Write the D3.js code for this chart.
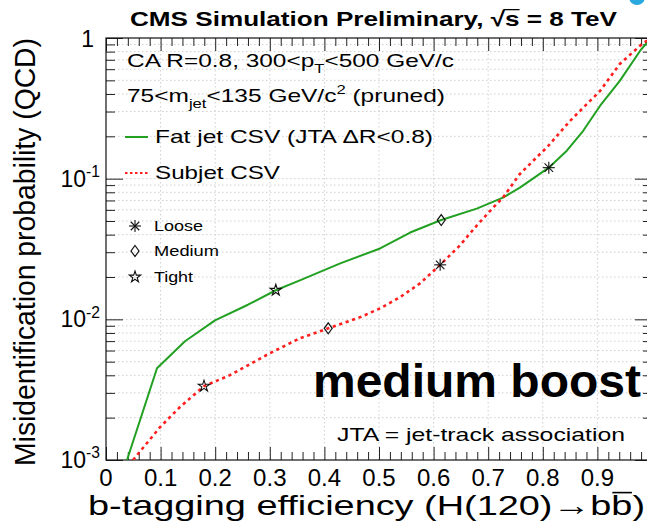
<!DOCTYPE html>
<html>
<head>
<meta charset="utf-8">
<script src="https://cdn.jsdelivr.net/npm/d3@7"></script>
<style>
  body { margin: 0; background: #fff; }
  svg { display: block; }
  text { font-family: "Liberation Sans", Arial, Helvetica, sans-serif; fill: #000; }
</style>
</head>
<body>
<svg id="chart" width="647" height="525"></svg>
<script>
// Fat jet CSV: b-tag efficiency vs QCD mistag rate
const fatjetEff    = [0.0385, 0.0934, 0.1447, 0.1996, 0.26, 0.311, 0.355, 0.429, 0.502, 0.557, 0.614, 0.679, 0.727, 0.758, 0.811, 0.844, 0.874, 0.905, 0.941, 0.978, 0.996];
const fatjetMistag = [0.001, 0.00449, 0.00698, 0.00984, 0.0127, 0.0161, 0.0189, 0.0250, 0.0319, 0.0414, 0.0508, 0.0612, 0.0733, 0.0863, 0.1197, 0.158, 0.219, 0.330, 0.496, 0.809, 0.98];

// Subjet CSV
const subjetEff    = [0.0495, 0.0989, 0.1355, 0.1795, 0.227, 0.300, 0.355, 0.407, 0.465, 0.502, 0.538, 0.575, 0.612, 0.648, 0.679, 0.709, 0.727, 0.758, 0.810, 0.850, 0.905, 0.941, 0.984, 1.0];
const subjetMistag = [0.001, 0.00171, 0.00238, 0.00335, 0.00401, 0.00574, 0.00733, 0.00863, 0.01033, 0.01197, 0.01432, 0.0180, 0.0244, 0.0335, 0.0464, 0.0623, 0.0733, 0.108, 0.171, 0.258, 0.421, 0.654, 0.922, 1.0];

// Working points: Loose, Medium, Tight
const wpNames        = ["Loose", "Medium", "Tight"];
const fatjetWpEff    = [0.811, 0.614, 0.311];
const fatjetWpMistag = [0.1197, 0.0508, 0.0161];
const subjetWpEff    = [0.612, 0.407, 0.1795];
const subjetWpMistag = [0.0244, 0.00863, 0.00335];

// Axis ticks
const xMajorTicks  = [0, 0.1, 0.2, 0.3, 0.4, 0.5, 0.6, 0.7, 0.8, 0.9, 1.0];
const xTickLabels  = ["0", "0.1", "0.2", "0.3", "0.4", "0.5", "0.6", "0.7", "0.8", "0.9"];
const yDecadeExps  = [0, -1, -2, -3];

const svg = d3.select("#chart");
const pLeft = 106, pRight = 652, pTop = 38, pBottom = 460;

const x = d3.scaleLinear().domain([0, 1]).range([pLeft, pRight]);
const y = d3.scaleLog().domain([1e-3, 1]).range([pBottom, pTop]);

// minor tick values
const xMinorTicks = d3.range(0, 1.0001, 0.02).filter(v => Math.abs(v * 10 - Math.round(v * 10)) > 1e-6);
const yMajorTicks = yDecadeExps.map(e => Math.pow(10, e));
const yMinorTicks = [];
[-3, -2, -1].forEach(e => { for (let k = 2; k <= 9; k++) yMinorTicks.push(k * Math.pow(10, e)); });

svg.append("rect").attr("width", 647).attr("height", 525).attr("fill", "#fff");

// decorative corner mark
svg.append("circle").attr("cx", 637).attr("cy", -3).attr("r", 8).attr("fill", "#2aa9df");

// grid
const grid = svg.append("g").attr("stroke", "#cfcfcf").attr("stroke-width", 1).attr("stroke-dasharray", "1.5,2.5");
grid.selectAll("line.h").data(yMajorTicks.concat(yMinorTicks).filter(v => v > 1e-3 && v < 1)).join("line")
  .attr("x1", pLeft).attr("x2", pRight).attr("y1", d => y(d)).attr("y2", d => y(d));
grid.selectAll("line.v").data(xMajorTicks.filter(v => v > 0 && v < 1)).join("line")
  .attr("y1", pTop).attr("y2", pBottom).attr("x1", d => x(d)).attr("x2", d => x(d));

// tick marks via d3 axes (inward)
function ticks(axis, values, size, transform) {
  const g = svg.append("g").attr("transform", transform)
    .call(axis.tickValues(values).tickSize(-size).tickFormat(""));
  g.select(".domain").remove();
  g.selectAll("line").attr("stroke", "#222").attr("stroke-width", 1);
}
ticks(d3.axisBottom(x), xMajorTicks, 13, `translate(0,${pBottom})`);
ticks(d3.axisBottom(x), xMinorTicks, 8, `translate(0,${pBottom})`);
ticks(d3.axisTop(x), xMajorTicks, 13, `translate(0,${pTop})`);
ticks(d3.axisTop(x), xMinorTicks, 8, `translate(0,${pTop})`);
ticks(d3.axisLeft(y), yMajorTicks, 17, `translate(${pLeft},0)`);
ticks(d3.axisLeft(y), yMinorTicks, 9, `translate(${pLeft},0)`);
ticks(d3.axisRight(y), yMajorTicks, 17, `translate(${pRight},0)`);
ticks(d3.axisRight(y), yMinorTicks, 9, `translate(${pRight},0)`);

// frame
svg.append("rect").attr("x", pLeft).attr("y", pTop).attr("width", pRight - pLeft).attr("height", pBottom - pTop)
  .attr("fill", "none").attr("stroke", "#111").attr("stroke-width", 1.2);

// text helper with super/subscripts
function rich(g, x0, y0, parts, o) {
  const t = g.append("text").attr("x", x0).attr("y", y0)
    .attr("font-size", o.size).attr("font-weight", o.weight || "normal")
    .attr("text-anchor", o.anchor || "start");
  let shift = 0;
  parts.forEach(p => {
    const [s, kind] = Array.isArray(p) ? p : [p, null];
    const target = kind === "sup" ? -o.size * 0.42 : kind === "sub" ? o.size * 0.3 : 0;
    const ts = t.append("tspan").attr("dy", target - shift).text(s);
    if (kind) ts.attr("font-size", o.size * 0.68);
    shift = target;
  });
  if (o.width) t.attr("textLength", o.width).attr("lengthAdjust", "spacingAndGlyphs");
  return t;
}

// x tick labels
const xl = svg.append("g");
xTickLabels.forEach((s, i) => {
  xl.append("text").attr("x", x(xMajorTicks[i])).attr("y", 486)
    .attr("font-size", 24).attr("text-anchor", "middle").text(s);
});

// y tick labels
const yl = svg.append("g");
yDecadeExps.forEach(e => {
  if (e === 0) {
    yl.append("text").attr("x", 94).attr("y", 47).attr("font-size", 23).attr("text-anchor", "end").text("1");
  } else {
    rich(yl, 100, y(Math.pow(10, e)) + 8, ["10", [String(e), "sup"]], { size: 23, anchor: "end" });
  }
});

// curves
const line = d3.line().x(d => x(d[0])).y(d => y(d[1]));
svg.append("clipPath").attr("id", "plotclip")
  .append("rect").attr("x", pLeft).attr("y", pTop).attr("width", pRight - pLeft).attr("height", pBottom - pTop);
const curves = svg.append("g").attr("clip-path", "url(#plotclip)");
curves.append("path").datum(d3.zip(fatjetEff, fatjetMistag)).attr("d", line)
  .attr("fill", "none").attr("stroke", "#22a022").attr("stroke-width", 2).attr("stroke-linejoin", "round");
curves.append("path").datum(d3.zip(subjetEff, subjetMistag)).attr("d", line)
  .attr("fill", "none").attr("stroke", "#ff1f1f").attr("stroke-width", 2.6).attr("stroke-dasharray", "3.2,3.6");

// marker shapes
function asterisk(g, cx, cy, r) {
  [0, 45, 90, 135].forEach(a => {
    const rad = a * Math.PI / 180;
    g.append("line").attr("x1", cx - r * Math.cos(rad)).attr("y1", cy - r * Math.sin(rad))
      .attr("x2", cx + r * Math.cos(rad)).attr("y2", cy + r * Math.sin(rad))
      .attr("stroke", "#111").attr("stroke-width", 1.1);
  });
}
function diamond(g, cx, cy, w, h) {
  g.append("path").attr("d", `M${cx},${cy - h / 2}L${cx + w / 2},${cy}L${cx},${cy + h / 2}L${cx - w / 2},${cy}Z`)
    .attr("fill", "none").attr("stroke", "#111").attr("stroke-width", 1.2);
}
function star(g, cx, cy, size) {
  g.append("path").attr("d", d3.symbol(d3.symbolStar).size(size)())
    .attr("transform", `translate(${cx},${cy})`)
    .attr("fill", "none").attr("stroke", "#111").attr("stroke-width", 1.1);
}
function marker(g, name, cx, cy) {
  if (name === "Loose") asterisk(g, cx, cy, 6);
  else if (name === "Medium") diamond(g, cx, cy, 8, 11);
  else star(g, cx, cy, 40);
}

const mk = svg.append("g");
wpNames.forEach((n, i) => {
  marker(mk, n, x(fatjetWpEff[i]), y(fatjetWpMistag[i]));
  marker(mk, n, x(subjetWpEff[i]), y(subjetWpMistag[i]));
});

// title
const titleStr = "CMS Simulation Preliminary, \u221As = 8 TeV";
const title = rich(svg, 130, 26, [titleStr], { size: 21, weight: "bold", width: 487 });
{
  const iS = titleStr.indexOf("\u221A") + 1;
  const eR = title.node().getExtentOfChar(iS - 1);
  const eS = title.node().getExtentOfChar(iS);
  const yb = 26 - 21 * 0.78;
  svg.append("line").attr("x1", eR.x + eR.width - 1.5).attr("x2", eS.x + eS.width)
    .attr("y1", yb).attr("y2", yb).attr("stroke", "#000").attr("stroke-width", 1.3);
}

// info text
const info = svg.append("g");
rich(info, 127, 67, ["CA R=0.8, 300<p", ["T", "sub"], "<500 GeV/c"], { size: 19, width: 327 });
rich(info, 127, 102, ["75<m", ["jet", "sub"], "<135 GeV/c", ["2", "sup"], " (pruned)"], { size: 19, width: 318 });

// legend
const lg = svg.append("g");
lg.append("line").attr("x1", 125).attr("x2", 148).attr("y1", 137).attr("y2", 137)
  .attr("stroke", "#22a022").attr("stroke-width", 2);
rich(lg, 155, 143, ["Fat jet CSV (JTA \u0394R<0.8)"], { size: 19, width: 278 });
lg.append("line").attr("x1", 125).attr("x2", 148).attr("y1", 173).attr("y2", 173)
  .attr("stroke", "#ff1f1f").attr("stroke-width", 2.2).attr("stroke-dasharray", "2.5,2.5");
rich(lg, 155, 179, ["Subjet CSV"], { size: 19, width: 125 });

// working point legend
const wpLegendY = [226, 251, 277];
const wpLegendW = [49, 65, 39];
wpNames.forEach((n, i) => {
  marker(lg, n, 135, wpLegendY[i]);
  rich(lg, 154, wpLegendY[i] + 5, [n], { size: 15, width: wpLegendW[i] });
});

// annotations
rich(svg, 313, 397, ["medium boost"], { size: 47, weight: "bold", width: 328 });
rich(svg, 337, 441, ["JTA = jet-track association"], { size: 19, width: 288 });

// axis titles
const xStr = "b-tagging efficiency (H(120)\u2192bb)";
const xt = rich(svg, 88, 515, [xStr], { size: 28, width: 557 });
{
  const e = xt.node().getExtentOfChar(xStr.lastIndexOf("b"));
  const yb = 515 - 28 * 0.8;
  svg.append("line").attr("x1", e.x + 1).attr("x2", e.x + e.width - 0.5)
    .attr("y1", yb).attr("y2", yb).attr("stroke", "#000").attr("stroke-width", 1.6);
}
const ylab = svg.append("g").attr("transform", "translate(35,252) rotate(-90)");
rich(ylab, 0, 0, ["Misidentification probability (QCD)"], { size: 29, anchor: "middle", width: 428 });
</script>
</body>
</html>
